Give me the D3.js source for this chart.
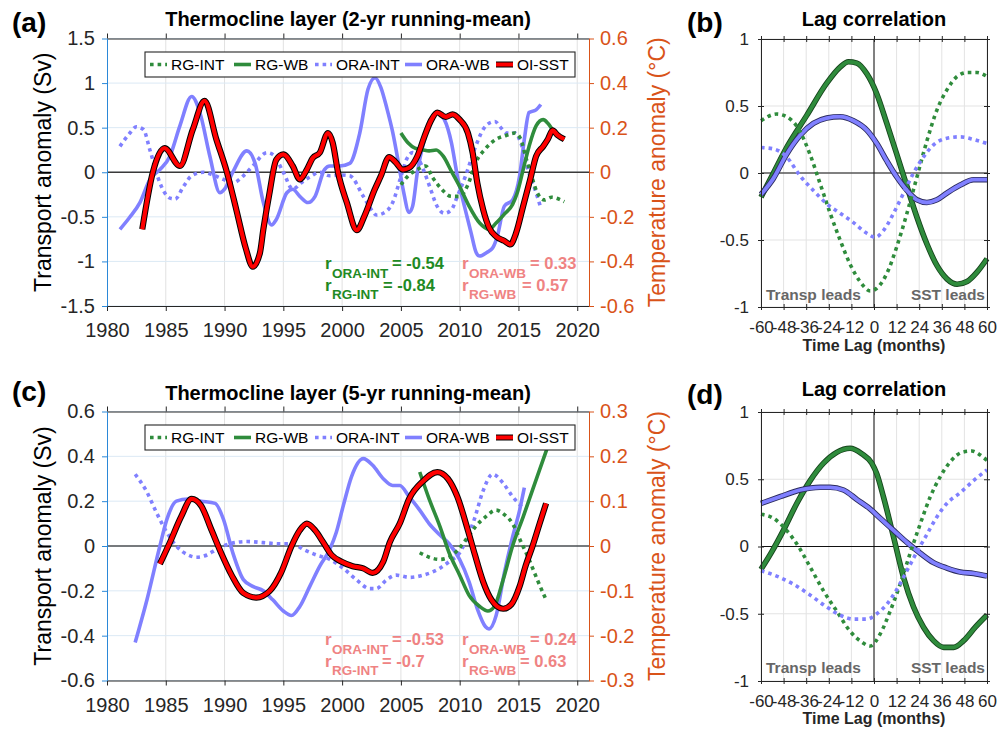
<!DOCTYPE html>
<html>
<head>
<meta charset="utf-8">
<script src="https://cdn.jsdelivr.net/npm/d3@7"></script>
<style>
  body { margin: 0; background: #fff; }
  svg { display: block; font-family: "Liberation Sans", Arial, sans-serif; }
</style>
</head>
<body>
<svg id="fig" width="1008" height="731"></svg>
<script>
// ---------------- panel (a) : 2-yr running mean ----------------
const yrOraWbA = [1981.1,1981.9,1982.8,1983.65,1984.5,1985.35,1986.2,1987.2,1987.9,1988.75,1989.6,1990.0,1990.7,1991.9,1992.6,1993.3,1994.0,1994.4,1995.3,1995.8,1996.4,1997.1,1997.7,1998.5,1998.95,1999.8,2000.65,2001.5,2002.2,2002.8,2003.3,2003.8,2004.3,2004.8,2005.2,2005.7,2006.0,2006.4,2007.0,2007.7,2008.1,2008.7,2009.3,2009.8,2010.4,2010.97,2011.4,2011.7,2012.3,2012.8,2013.2,2013.8,2014.5,2015.1,2015.5,2015.9,2016.5,2016.9]
const oraWbA = [-0.64,-0.51,-0.34,-0.08,0.03,0.18,0.52,0.85,0.67,0.18,-0.23,-0.19,0.0,0.24,0.1,-0.34,-0.59,-0.53,-0.23,-0.19,-0.27,-0.34,-0.27,0.03,0.07,0.07,0.1,0.44,0.93,1.06,0.95,0.72,0.45,0.1,-0.2,-0.45,-0.38,0.0,0.37,0.63,0.67,0.59,0.33,-0.04,-0.38,-0.68,-0.9,-0.94,-0.9,-0.85,-0.72,-0.38,-0.31,-0.04,0.37,0.67,0.70,0.76]

const yrOraIntA = [1981.1,1981.95,1982.5,1983.1,1983.65,1984.5,1985.35,1985.8,1986.5,1987.2,1988.2,1989.0,1989.9,1990.7,1991.6,1992.4,1993.6,1994.1,1995.0,1995.8,1996.5,1997.4,1998.1,1998.95,1999.8,2000.65,2001.8,2002.6,2002.9,2003.5,2004.3,2005.0,2005.5,2006.0,2006.5,2007.0,2007.5,2008.0,2008.7,2009.3,2009.8,2010.5,2011.3,2012.0,2012.5,2013.0,2013.5,2014.0,2014.7,2015.2,2015.8,2016.5,2016.9]
const oraIntA = [0.29,0.44,0.51,0.48,0.25,-0.12,-0.29,-0.3,-0.16,-0.04,0.0,-0.03,-0.08,-0.12,-0.04,0.07,0.22,0.2,0.0,-0.19,-0.12,-0.04,0.0,-0.04,-0.03,-0.04,-0.27,-0.44,-0.48,-0.46,-0.34,-0.05,0.15,0.22,0.15,0.0,-0.18,-0.36,-0.46,-0.42,-0.27,-0.04,0.27,0.48,0.55,0.57,0.5,0.44,0.44,0.33,0.03,-0.23,-0.40]

const yrRgIntA = [2005.0,2005.7,2006.4,2007.1,2007.7,2008.4,2009.3,2010.0,2010.7,2011.4,2012.1,2013.1,2013.9,2014.7,2015.2,2015.6,2016.2,2016.6,2017.2,2017.8,2018.9]
const rgIntA = [-0.14,-0.03,0.03,0.07,-0.06,-0.18,-0.27,-0.27,-0.14,0.12,0.25,0.37,0.41,0.44,0.37,0.18,-0.08,-0.23,-0.31,-0.28,-0.33]

const yrRgWbA = [2005.0,2005.6,2006.2,2006.9,2007.4,2008.0,2008.6,2009.3,2010.0,2010.8,2011.7,2012.5,2013.1,2013.8,2014.5,2014.9,2015.4,2015.9,2016.5,2017.1,2017.5,2018.1,2018.9]
const rgWbA = [0.44,0.33,0.27,0.25,0.24,0.25,0.18,0.01,-0.16,-0.38,-0.57,-0.64,-0.57,-0.47,-0.36,-0.23,0.03,0.29,0.52,0.59,0.55,0.44,0.37]

// OI-SST, degC (right axis)
const yrSstA = [1983.0,1983.9,1984.9,1986.2,1987.3,1988.3,1989.3,1990.2,1991.0,1991.8,1992.4,1993.0,1993.3,1993.8,1994.4,1995.0,1995.8,1996.4,1997.0,1997.5,1998.1,1998.8,1999.2,1999.65,2000.4,2001.25,2001.9,2002.75,2003.3,2004.0,2004.5,2005.16,2005.7,2006.4,2007.0,2007.6,2008.1,2008.8,2009.4,2010.0,2010.7,2011.1,2011.5,2012.0,2012.5,2013.1,2013.8,2014.3,2014.8,2015.4,2016.0,2016.5,2017.1,2017.5,2017.9,2018.3,2018.9]
const sstA = [-0.256,0,0.108,0.028,0.192,0.32,0.148,0,-0.168,-0.34,-0.424,-0.364,-0.256,-0.1,0.056,0.08,0.028,-0.032,0.012,0.064,0.088,0.176,0.132,0,-0.136,-0.26,-0.196,-0.08,-0.016,0.068,0.048,0.012,0.02,0.072,0.16,0.236,0.268,0.248,0.26,0.236,0.176,0.088,-0.048,-0.168,-0.248,-0.288,-0.308,-0.324,-0.272,-0.152,-0.032,0.072,0.116,0.148,0.188,0.168,0.148]

// ---------------- panel (c) : 5-yr running mean ----------------
const yrOraWbC = [1982.4,1983.4,1984.5,1985.1,1985.9,1986.9,1988.0,1989.2,1989.9,1990.7,1991.6,1992.4,1993.3,1994.1,1995.0,1995.7,1996.4,1997.25,1998.1,1998.95,1999.5,2000.1,2000.8,2001.8,2002.6,2003.5,2004.3,2004.9,2005.7,2006.6,2007.4,2008.3,2009.1,2010.0,2010.8,2011.5,2012.2,2012.5,2013.1,2013.8,2014.5,2015.1,2015.5]
const oraWbC = [-0.43,-0.24,0.0,0.12,0.2,0.21,0.2,0.19,0.12,-0.03,-0.15,-0.18,-0.2,-0.24,-0.29,-0.31,-0.27,-0.18,-0.09,-0.015,0.06,0.18,0.31,0.39,0.36,0.30,0.27,0.27,0.22,0.16,0.10,0.05,0.01,-0.06,-0.16,-0.28,-0.36,-0.37,-0.31,-0.12,0.04,0.16,0.26]

const yrOraIntC = [1982.4,1983.4,1984.2,1985.1,1985.9,1986.9,1987.6,1988.5,1989.3,1990.45,1991.9,1993.3,1994.7,1995.8,1996.7,1997.8,1998.95,2000.1,2001.2,2002.35,2002.9,2003.8,2004.6,2005.75,2006.9,2008.3,2009.1,2010.0,2010.5,2011.25,2011.95,2012.8,2013.7,2014.5,2015.4]
const oraIntC = [0.32,0.24,0.15,0.06,0.0,-0.04,-0.05,-0.04,-0.015,0.01,0.02,0.015,0.01,0.01,-0.015,-0.04,-0.06,-0.1,-0.15,-0.19,-0.19,-0.15,-0.13,-0.14,-0.13,-0.1,-0.07,-0.03,0.02,0.12,0.24,0.32,0.28,0.22,0.17]

const yrRgIntC = [2006.6,2007.4,2008.3,2009.1,2009.8,2010.7,2011.4,2012.2,2013.1,2013.8,2014.5,2015.2,2015.9,2016.6,2017.35]
const rgIntC = [-0.03,-0.05,-0.06,-0.05,-0.02,0.04,0.09,0.13,0.16,0.14,0.10,0.02,-0.06,-0.15,-0.24]

const yrRgWbC = [2006.6,2007.4,2008.3,2009.1,2010.0,2010.8,2011.7,2012.4,2012.95,2013.7,2014.5,2015.4,2016.2,2017.4]
const rgWbC = [0.33,0.21,0.09,-0.03,-0.13,-0.22,-0.27,-0.29,-0.27,-0.15,0.0,0.13,0.25,0.43]

const yrSstC = [1984.5,1985.35,1986.3,1987.2,1988.0,1988.9,1989.7,1990.6,1991.6,1992.7,1993.85,1994.8,1995.7,1996.4,1997.0,1997.7,1998.4,1999.1,1999.95,2000.9,2001.8,2002.6,2003.5,2004.05,2004.9,2005.7,2006.9,2008.1,2009.0,2009.8,2010.7,2011.3,2012.0,2012.7,2013.7,2014.4,2015.1,2015.6,2016.2,2016.8,2017.35]
const sstC = [-0.04,0.008,0.065,0.105,0.09,0.035,-0.015,-0.065,-0.105,-0.115,-0.1,-0.06,0,0.035,0.05,0.035,0.008,-0.02,-0.035,-0.045,-0.05,-0.06,-0.035,0.008,0.05,0.105,0.145,0.165,0.15,0.11,0.035,-0.02,-0.08,-0.12,-0.14,-0.13,-0.09,-0.045,0,0.05,0.095]

// ---------------- panel (b) : lag correlation (2-yr) ----------------
const lagRgWbB = [-60,-53.4,-46.4,-35.7,-25.1,-18,-13.6,-9.1,-3.8,1.5,6.8,12.1,17.5,22.8,28.1,33.4,38.7,44.1,49.4,54.7,60]
const rgWbB = [-0.18,0,0.19,0.43,0.67,0.79,0.83,0.82,0.74,0.59,0.37,0.14,-0.1,-0.33,-0.53,-0.69,-0.79,-0.83,-0.81,-0.74,-0.64]
const lagOraWbB = [-60,-53.4,-46.4,-39.3,-32.2,-25.1,-18,-10.9,-3.8,1.5,6.8,12.1,17.5,22.8,28.1,33.4,38.7,45.8,52.9,60]
const oraWbB = [-0.16,-0.04,0.14,0.28,0.37,0.41,0.42,0.39,0.32,0.22,0.09,-0.03,-0.13,-0.2,-0.22,-0.2,-0.15,-0.09,-0.05,-0.05]
const lagRgIntB = [-60,-51.7,-46.4,-40.1,-34,-28.6,-23.3,-18,-12.7,-7.4,-2,1.5,6.8,12.1,17.5,22.8,28.1,33.4,38.7,44.1,49.4,54.7,60]
const rgIntB = [0.39,0.44,0.42,0.33,0.14,-0.08,-0.3,-0.5,-0.68,-0.81,-0.88,-0.86,-0.75,-0.55,-0.3,-0.03,0.24,0.47,0.62,0.72,0.75,0.75,0.72]
const lagOraIntB = [-60,-53.4,-46.4,-39.3,-32.2,-25.1,-18,-10.9,-3.8,0.6,5,10.4,15.7,21,26.3,31.6,38.7,45.8,52.9,60]
const oraIntB = [0.19,0.18,0.12,-0.02,-0.13,-0.23,-0.3,-0.37,-0.45,-0.48,-0.43,-0.3,-0.15,0,0.12,0.21,0.26,0.27,0.25,0.22]

// ---------------- panel (d) : lag correlation (5-yr) ----------------
const lagRgWbD = [-60,-54.3,-48.1,-41,-33.9,-26.8,-19.8,-12.7,-6.5,-1.2,1.5,5,10.4,15.7,21,26.3,31.6,37,42.3,47.6,53.8,60]
const rgWbD = [-0.17,-0.04,0.12,0.32,0.49,0.62,0.70,0.73,0.69,0.62,0.54,0.37,0.07,-0.23,-0.45,-0.6,-0.7,-0.75,-0.75,-0.7,-0.6,-0.51]
const lagOraWbD = [-60,-49.9,-39.3,-28.6,-23.3,-16.2,-9.1,-2.1,3.3,10.4,17.5,24.6,31.6,38.7,45.8,52.9,60]
const oraWbD = [0.32,0.37,0.42,0.44,0.44,0.42,0.35,0.28,0.21,0.12,0.03,-0.05,-0.12,-0.16,-0.19,-0.2,-0.22]
const lagRgIntD = [-60,-53.4,-46.4,-40.1,-34,-26.8,-19.8,-12.7,-6.5,-2,3.3,8.6,13.9,19.2,24.6,29.9,35.2,40.5,46.7,52,56.4,60]
const rgIntD = [0.24,0.21,0.12,0,-0.15,-0.33,-0.48,-0.63,-0.71,-0.74,-0.65,-0.48,-0.28,-0.05,0.17,0.37,0.52,0.63,0.70,0.71,0.68,0.64]
const lagOraIntD = [-60,-51.7,-42.8,-34,-25.1,-18,-10.9,-3.8,1.5,6.8,12.1,17.5,22.8,28.1,33.4,38.7,45.8,52.9,60]
const oraIntD = [-0.18,-0.22,-0.28,-0.36,-0.45,-0.51,-0.54,-0.54,-0.5,-0.43,-0.32,-0.18,-0.04,0.09,0.22,0.32,0.40,0.49,0.57]

// ticks / labels
const yearTicks = [1980,1985,1990,1995,2000,2005,2010,2015,2020]
const svTicksA = [-1.5,-1,-0.5,0,0.5,1,1.5]
const degTicksA = [-0.6,-0.4,-0.2,0,0.2,0.4,0.6]
const svTicksC = [-0.6,-0.4,-0.2,0,0.2,0.4,0.6]
const degTicksC = [-0.3,-0.2,-0.1,0,0.1,0.2,0.3]
const lagTicks = [-60,-48,-36,-24,-12,0,12,24,36,48,60]
const corTicks = [-1,-0.5,0,0.5,1]
const legendNames = ['RG-INT','RG-WB','ORA-INT','ORA-WB','OI-SST']

// colours
const LAV = '#8080ff', GRN = '#2f8c3c', RED = '#ff0000'
const BLUEAX = '#2b88d8', ORANGE = '#d95319', INK = '#262626'
const ANN_GRN = '#1f8a24', ANN_PINK = '#ef8383'

const svg = d3.select('#fig')
const fmt = d => String(+d.toFixed(2))

function drawLine(g, xs, ys, x, y, kind, color) {
  const line = d3.line().x(d => x(d[0])).y(d => y(d[1])).curve(d3.curveMonotoneX)
  const dd = line(d3.zip(xs, ys))
  if (kind === 'red') {
    g.append('path').attr('d', dd).attr('fill', 'none').attr('stroke', '#000').attr('stroke-width', 6.2)
    g.append('path').attr('d', dd).attr('fill', 'none').attr('stroke', RED).attr('stroke-width', 4.2)
  } else if (kind === 'edge') {
    g.append('path').attr('d', dd).attr('fill', 'none').attr('stroke', color === GRN ? '#17451d' : '#2b2b5e').attr('stroke-width', 5.6)
    g.append('path').attr('d', dd).attr('fill', 'none').attr('stroke', color).attr('stroke-width', 3.8)
  } else if (kind === 'dot') {
    g.append('path').attr('d', dd).attr('fill', 'none').attr('stroke', color).attr('stroke-width', 3.6)
      .attr('stroke-dasharray', '3.6,4')
  } else {
    g.append('path').attr('d', dd).attr('fill', 'none').attr('stroke', color).attr('stroke-width', 3.6)
  }
}

function rText(g, x, yb, sub, val, valX, color) {
  const t = g.append('g').attr('fill', color).attr('font-weight', 'bold')
  t.append('text').attr('x', x).attr('y', yb).attr('font-size', 17).text('r')
  t.append('text').attr('x', x + 7).attr('y', yb + 8.5).attr('font-size', 13.5).text(sub)
  t.append('text').attr('x', valX).attr('y', yb).attr('font-size', 16.5).text(val)
}

// ---------- time series panel (a) / (c) ----------
function tsPanel(o) {
  const g = svg.append('g')
  const x = d3.scaleLinear([1980, 2021], [107, 589])
  const y = d3.scaleLinear(o.yDom, [o.b, o.t])
  const yT = d3.scaleLinear(o.tDom, [o.b, o.t])

  // grid
  g.selectAll('.vg').data(yearTicks.slice(1)).join('line')
    .attr('x1', d => x(d)).attr('x2', d => x(d)).attr('y1', o.t).attr('y2', o.b)
    .attr('stroke', '#e1e1e1').attr('stroke-width', 1)
  g.selectAll('.hg').data(o.yTicks).join('line')
    .attr('x1', 107).attr('x2', 589).attr('y1', d => y(d)).attr('y2', d => y(d))
    .attr('stroke', '#dbe9f5').attr('stroke-width', 1)
  g.append('line').attr('x1', 107).attr('x2', 589).attr('y1', y(0)).attr('y2', y(0))
    .attr('stroke', o.zeroCol).attr('stroke-width', o.zeroW)

  // series
  drawLine(g, o.s.yrOraInt, o.s.oraInt, x, y, 'dot', LAV)
  drawLine(g, o.s.yrOraWb, o.s.oraWb, x, y, 'solid', LAV)
  drawLine(g, o.s.yrRgInt, o.s.rgInt, x, y, 'dot', GRN)
  drawLine(g, o.s.yrRgWb, o.s.rgWb, x, y, 'solid', GRN)
  drawLine(g, o.s.yrSst, o.s.sst, x, yT, 'red')

  // axes
  const ax = g.append('g').attr('font-family', '"Liberation Sans", Arial, sans-serif')
  const bx = ax.append('g').attr('transform', `translate(0,${o.b})`)
    .call(d3.axisBottom(x).tickValues(yearTicks).tickFormat(d3.format('d')).tickSize(5).tickSizeOuter(0).tickPadding(12))
  const tx = ax.append('g').attr('transform', `translate(0,${o.t})`)
    .call(d3.axisTop(x).tickValues(yearTicks).tickFormat('').tickSize(5).tickSizeOuter(0))
  const ly = ax.append('g').attr('transform', 'translate(107,0)')
    .call(d3.axisLeft(y).tickValues(o.yTicks).tickFormat(fmt).tickSize(5).tickSizeOuter(0).tickPadding(7))
  const ry = ax.append('g').attr('transform', 'translate(589,0)')
    .call(d3.axisRight(yT).tickValues(o.tTicks).tickFormat(fmt).tickSize(5).tickSizeOuter(0).tickPadding(6))
  ;[bx, tx].forEach(a => { a.select('.domain').attr('stroke', INK); a.selectAll('line').attr('stroke', INK) })
  ;[bx, ly].forEach(a => a.selectAll('text').attr('fill', INK).attr('font-size', 20))
  ly.select('.domain').attr('stroke', BLUEAX); ly.selectAll('line').attr('stroke', BLUEAX)
  ry.select('.domain').attr('stroke', ORANGE); ry.selectAll('line').attr('stroke', ORANGE)
  ry.selectAll('text').attr('fill', ORANGE).attr('font-size', 20)

  // axis titles
  const cy = (o.t + o.b) / 2
  g.append('text').attr('transform', `translate(51,${cy}) rotate(-90)`).attr('text-anchor', 'middle')
    .attr('font-size', 23).attr('fill', '#000').text('Transport anomaly (Sv)')
  g.append('text').attr('transform', `translate(665,${cy}) rotate(-90)`).attr('text-anchor', 'middle')
    .attr('font-size', 23).attr('fill', ORANGE).text('Temperature anomaly (°C)')

  // title and letter
  g.append('text').attr('x', 348).attr('y', o.titleY).attr('text-anchor', 'middle')
    .attr('font-size', 20).attr('font-weight', 'bold').text(o.title)
  g.append('text').attr('x', 12).attr('y', o.letterY).attr('font-size', 28).attr('font-weight', 'bold').text(o.letter)

  // legend
  const lg = g.append('g')
  lg.append('rect').attr('x', 145).attr('y', o.legY).attr('width', 430).attr('height', 25)
    .attr('fill', '#fff').attr('stroke', INK).attr('stroke-width', 1.1)
  const lx = [150, 234, 315, 405, 496]
  const kinds = ['dot', 'solid', 'dot', 'solid', 'red']
  const cols = [GRN, GRN, LAV, LAV, RED]
  const ly0 = o.legY + 12.5
  legendNames.forEach((n, i) => {
    const sx = [lx[i], lx[i] + 17]
    if (kinds[i] === 'red') {
      lg.append('line').attr('x1', sx[0]).attr('x2', sx[1]).attr('y1', ly0).attr('y2', ly0).attr('stroke', '#000').attr('stroke-width', 6)
      lg.append('line').attr('x1', sx[0]).attr('x2', sx[1]).attr('y1', ly0).attr('y2', ly0).attr('stroke', RED).attr('stroke-width', 4)
    } else {
      lg.append('line').attr('x1', sx[0]).attr('x2', sx[1]).attr('y1', ly0).attr('y2', ly0)
        .attr('stroke', cols[i]).attr('stroke-width', 3.6).attr('stroke-dasharray', kinds[i] === 'dot' ? '3.6,4' : null)
    }
    lg.append('text').attr('x', sx[1] + 4).attr('y', ly0 + 5.5).attr('font-size', 15.5).attr('fill', '#000').text(n)
  })

  o.ann.forEach(a => rText(g, a[0], a[1], a[2], a[3], a[4], a[5]))
}

tsPanel({
  t: 38.5, b: 306, yDom: [-1.5, 1.5], tDom: [-0.6, 0.6], yTicks: svTicksA, tTicks: degTicksA,
  zeroCol: '#3a3a3a', zeroW: 1.5,
  s: { yrOraInt: yrOraIntA, oraInt: oraIntA, yrOraWb: yrOraWbA, oraWb: oraWbA,
       yrRgInt: yrRgIntA, rgInt: rgIntA, yrRgWb: yrRgWbA, rgWb: rgWbA, yrSst: yrSstA, sst: sstA },
  title: 'Thermocline layer (2-yr running-mean)', titleY: 26, letter: '(a)', letterY: 32, legY: 52,
  ann: [
    [325, 269, 'ORA-INT', '= -0.54', 392, ANN_GRN],
    [325, 290.5, 'RG-INT', '= -0.84', 383, ANN_GRN],
    [462, 269, 'ORA-WB', '= 0.33', 530, ANN_PINK],
    [462, 290.5, 'RG-WB', '= 0.57', 522, ANN_PINK]
  ]
})

tsPanel({
  t: 411.5, b: 680.5, yDom: [-0.6, 0.6], tDom: [-0.3, 0.3], yTicks: svTicksC, tTicks: degTicksC,
  zeroCol: '#000', zeroW: 1,
  s: { yrOraInt: yrOraIntC, oraInt: oraIntC, yrOraWb: yrOraWbC, oraWb: oraWbC,
       yrRgInt: yrRgIntC, rgInt: rgIntC, yrRgWb: yrRgWbC, rgWb: rgWbC, yrSst: yrSstC, sst: sstC },
  title: 'Thermocline layer (5-yr running-mean)', titleY: 400, letter: '(c)', letterY: 401, legY: 425,
  ann: [
    [325, 645, 'ORA-INT', '= -0.53', 392, ANN_PINK],
    [325, 666.5, 'RG-INT', '= -0.7', 382, ANN_PINK],
    [462, 645, 'ORA-WB', '= 0.24', 530, ANN_PINK],
    [462, 666.5, 'RG-WB', '= 0.63', 520, ANN_PINK]
  ]
})

// ---------- lag correlation panel (b) / (d) ----------
function lagPanel(o) {
  const g = svg.append('g')
  const l = 761, r = 987
  const x = d3.scaleLinear([-60, 60], [l, r])
  const y = d3.scaleLinear([-1, 1], [o.b, o.t])

  g.selectAll('.vg').data(lagTicks).join('line')
    .attr('x1', d => x(d)).attr('x2', d => x(d)).attr('y1', o.t).attr('y2', o.b)
    .attr('stroke', '#e3e3e3')
  g.selectAll('.hg').data(corTicks).join('line')
    .attr('x1', l).attr('x2', r).attr('y1', d => y(d)).attr('y2', d => y(d))
    .attr('stroke', '#e3e3e3')
  g.append('line').attr('x1', l).attr('x2', r).attr('y1', y(0)).attr('y2', y(0)).attr('stroke', '#111').attr('stroke-width', 1)
  g.append('line').attr('x1', x(0)).attr('x2', x(0)).attr('y1', o.t).attr('y2', o.b).attr('stroke', '#111').attr('stroke-width', 1)

  drawLine(g, o.s.lagRgWb, o.s.rgWb, x, y, 'edge', GRN)
  drawLine(g, o.s.lagOraWb, o.s.oraWb, x, y, 'edge', LAV)
  drawLine(g, o.s.lagRgInt, o.s.rgInt, x, y, 'dot', GRN)
  drawLine(g, o.s.lagOraInt, o.s.oraInt, x, y, 'dot', LAV)

  g.append('text').attr('x', 766).attr('y', o.leadY).attr('font-size', 15.5).attr('font-weight', 'bold')
    .attr('fill', '#676767').text('Transp leads')
  g.append('text').attr('x', 985).attr('y', o.leadY).attr('text-anchor', 'end').attr('font-size', 15.5)
    .attr('font-weight', 'bold').attr('fill', '#676767').text('SST leads')

  const bx = g.append('g').attr('transform', `translate(0,${o.b})`)
    .call(d3.axisBottom(x).tickValues(lagTicks).tickFormat(fmt).tickSize(3).tickSizeOuter(0).tickPadding(11))
  const bxi = g.append('g').attr('transform', `translate(0,${o.b})`)
    .call(d3.axisBottom(x).tickValues(lagTicks).tickFormat('').tickSize(-3).tickSizeOuter(0))
  const tx = g.append('g').attr('transform', `translate(0,${o.t})`)
    .call(d3.axisTop(x).tickValues(lagTicks).tickFormat('').tickSize(3).tickSizeOuter(0))
  const txi = g.append('g').attr('transform', `translate(0,${o.t})`)
    .call(d3.axisTop(x).tickValues(lagTicks).tickFormat('').tickSize(-3).tickSizeOuter(0))
  const ly = g.append('g').attr('transform', `translate(${l},0)`)
    .call(d3.axisLeft(y).tickValues(corTicks).tickFormat(fmt).tickSize(3).tickSizeOuter(0).tickPadding(9))
  const lyi = g.append('g').attr('transform', `translate(${l},0)`)
    .call(d3.axisLeft(y).tickValues(corTicks).tickFormat('').tickSize(-3).tickSizeOuter(0))
  const ry = g.append('g').attr('transform', `translate(${r},0)`)
    .call(d3.axisRight(y).tickValues(corTicks).tickFormat('').tickSize(3).tickSizeOuter(0))
  const ryi = g.append('g').attr('transform', `translate(${r},0)`)
    .call(d3.axisRight(y).tickValues(corTicks).tickFormat('').tickSize(-3).tickSizeOuter(0))
  ;[bx, bxi, tx, txi, ly, lyi, ry, ryi].forEach(a => {
    a.select('.domain').attr('stroke', INK)
    a.selectAll('line').attr('stroke', INK)
    a.selectAll('text').attr('fill', INK).attr('font-size', 17)
  })

  g.append('text').attr('x', 874).attr('y', o.xlabY).attr('text-anchor', 'middle').attr('font-size', 16)
    .attr('font-weight', 'bold').attr('fill', INK).text('Time Lag (months)')
  g.append('text').attr('x', 874).attr('y', o.titleY).attr('text-anchor', 'middle').attr('font-size', 20)
    .attr('font-weight', 'bold').text('Lag correlation')
  g.append('text').attr('x', 687).attr('y', o.letterY).attr('font-size', 28).attr('font-weight', 'bold').text(o.letter)
}

lagPanel({
  t: 39, b: 307, leadY: 300, xlabY: 351, titleY: 26, letterY: 32, letter: '(b)',
  s: { lagRgWb: lagRgWbB, rgWb: rgWbB, lagOraWb: lagOraWbB, oraWb: oraWbB,
       lagRgInt: lagRgIntB, rgInt: rgIntB, lagOraInt: lagOraIntB, oraInt: oraIntB }
})

lagPanel({
  t: 412, b: 681, leadY: 673, xlabY: 724, titleY: 396, letterY: 404, letter: '(d)',
  s: { lagRgWb: lagRgWbD, rgWb: rgWbD, lagOraWb: lagOraWbD, oraWb: oraWbD,
       lagRgInt: lagRgIntD, rgInt: rgIntD, lagOraInt: lagOraIntD, oraInt: oraIntD }
})
</script>
</body>
</html>
